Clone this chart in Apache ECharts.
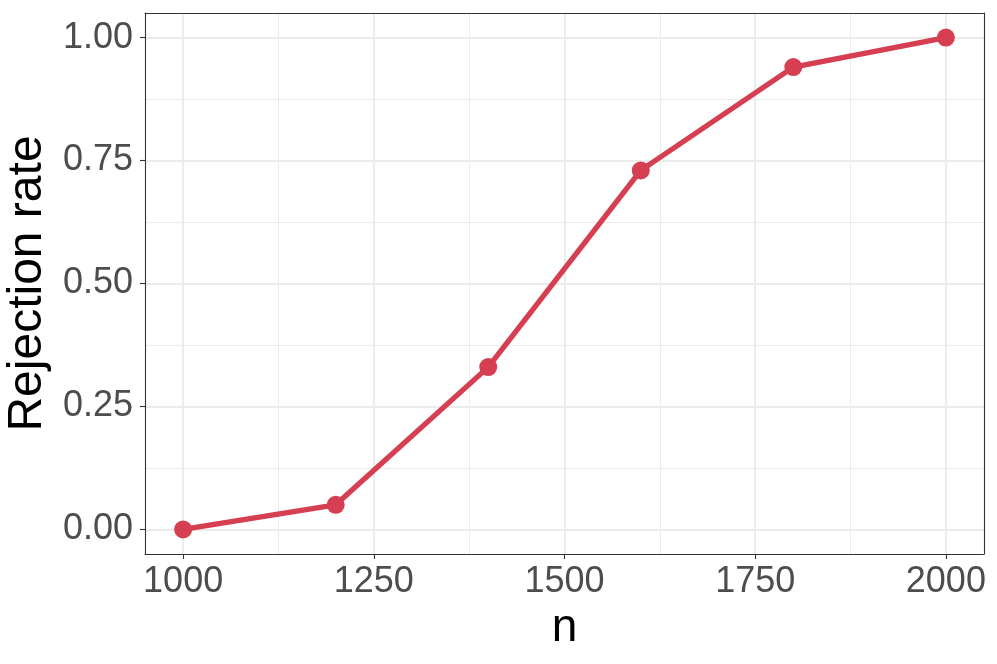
<!DOCTYPE html>
<html>
<head>
<meta charset="utf-8">
<title>Rejection rate</title>
<script src="https://cdn.jsdelivr.net/npm/echarts@6.0.0/dist/echarts.min.js"></script>
<style>
    html, body { margin: 0; padding: 0; background: #fff; }
    #chart { width: 997px; height: 664px; }
</style>
</head>
<body>
<div id="chart"></div>
<script>
// 数据
const sampleSizes = [1000, 1200, 1400, 1600, 1800, 2000];
const rejectionRates = [0, 0.05, 0.33, 0.73, 0.94, 1.00];

// 刻度
const xTicks = [1000, 1250, 1500, 1750, 2000];
const xMinorTicks = [1125, 1375, 1625, 1875];
const yTicks = [0, 0.25, 0.5, 0.75, 1];
const yMinorTicks = [0.125, 0.375, 0.625, 0.875];

const lineColor = '#d63e51';
const borderColor = '#333333';
const font = 'Liberation Sans';

const chart = echarts.init(document.getElementById('chart'));

function borderAxis(extra) {
    return Object.assign({
        type: 'value',
        axisLine: { show: true, onZero: false, lineStyle: { color: borderColor, width: 1.1 } },
        axisTick: { show: false },
        axisLabel: { show: false },
        splitLine: { show: false }
    }, extra);
}

const option = {
    animation: false,
    grid: { left: 145, right: 13, top: 13, bottom: 110, containLabel: false, outerBoundsMode: 'none' },
    xAxis: [
        {
            type: 'value',
            min: 950,
            max: 2050,
            position: 'bottom',
            name: 'n',
            nameLocation: 'middle',
            nameGap: 50,
            nameTextStyle: { fontFamily: font, fontSize: 46, color: '#000' },
            axisLine: { show: true, onZero: false, lineStyle: { color: borderColor, width: 1.1 } },
            axisTick: { show: true, length: 5, customValues: xTicks, lineStyle: { color: borderColor, width: 1.1 } },
            axisLabel: {
                customValues: xTicks,
                fontFamily: font,
                fontSize: 36,
                color: '#4d4d4d',
                margin: 10,
                formatter: v => String(v)
            },
            splitLine: { show: true, lineStyle: { color: '#ebebeb', width: 1.8 } }
        },
        borderAxis({
            min: 950,
            max: 2050,
            position: 'top',
            axisTick: { show: false, customValues: xMinorTicks },
            axisLabel: { show: false, customValues: xMinorTicks },
            splitLine: { show: true, lineStyle: { color: '#ececec', width: 1 } }
        })
    ],
    yAxis: [
        {
            type: 'value',
            min: -0.05,
            max: 1.05,
            position: 'left',
            name: 'Rejection rate',
            nameLocation: 'middle',
            nameGap: 89,
            nameTextStyle: { fontFamily: font, fontSize: 48, color: '#000' },
            axisLine: { show: true, onZero: false, lineStyle: { color: borderColor, width: 1.1 } },
            axisTick: { show: true, length: 5, customValues: yTicks, lineStyle: { color: borderColor, width: 1.1 } },
            axisLabel: {
                customValues: yTicks,
                fontFamily: font,
                fontSize: 36,
                color: '#4d4d4d',
                margin: 12,
                formatter: v => v.toFixed(2)
            },
            splitLine: { show: true, lineStyle: { color: '#ebebeb', width: 1.8 } }
        },
        borderAxis({
            min: -0.05,
            max: 1.05,
            position: 'right',
            axisTick: { show: false, customValues: yMinorTicks },
            axisLabel: { show: false, customValues: yMinorTicks },
            splitLine: { show: true, lineStyle: { color: '#ececec', width: 1 } }
        })
    ],
    series: [
        {
            type: 'line',
            xAxisIndex: 0,
            yAxisIndex: 0,
            data: sampleSizes.map((n, i) => [n, rejectionRates[i]]),
            symbol: 'circle',
            symbolSize: 18,
            showSymbol: true,
            lineStyle: { color: lineColor, width: 5.3 },
            itemStyle: { color: lineColor },
            z: 5
        }
    ]
};

chart.setOption(option);
</script>
</body>
</html>
